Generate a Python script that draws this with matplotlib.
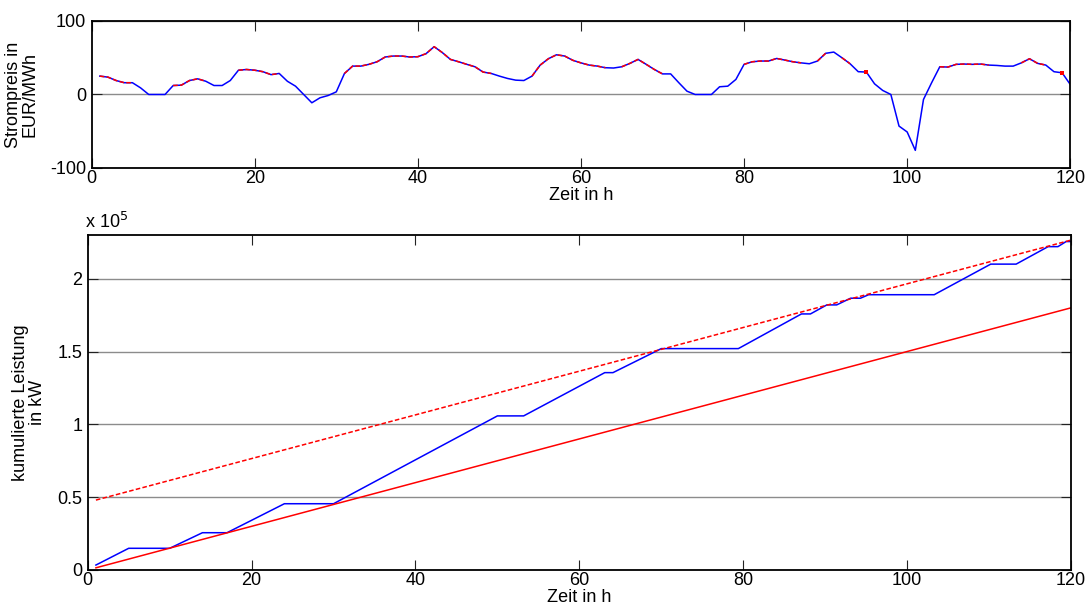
import numpy as np
import matplotlib
matplotlib.use("Agg")
import matplotlib.pyplot as plt
from matplotlib.ticker import FuncFormatter

plt.rcParams['font.family'] = ['Liberation Sans', 'DejaVu Sans']
plt.rcParams['axes.unicode_minus'] = False

# Strompreis je Stunde (1..120), EUR/MWh
hours = np.arange(1, 121)
price = [
    25, 23.6, 19, 16, 16, 9, 0, 0, 0, 12.2,
    12.7, 19, 21.3, 18, 12.2, 12.2, 19, 33, 34, 33,
    31, 27, 28.6, 18, 11.3, 0, -11.3, -4.5, -1.4, 3.6,
    28.6, 38.6, 38.6, 41, 44.5, 51, 52.3, 52.3, 51, 51.4,
    55.5, 65, 57, 47.7, 44.5, 41, 37.7, 30.5, 28.6, 25,
    21.8, 19.5, 19, 25, 40, 48.6, 54, 52.3, 46.5, 43,
    40, 38.6, 36.4, 36, 37.7, 42.3, 47.7, 41, 34, 28,
    28, 16, 4.5, 0, 0, 0, 10.5, 11.3, 20.5, 41,
    44.5, 45.5, 45.5, 49, 46.8, 44.5, 43, 41.8, 45.5, 56,
    57.7, 50, 41.8, 31, 30.5, 14.5, 5.5, 0, -43, -51,
    -76, -6.8, 16, 37.7, 37.3, 41, 41.4, 41, 41.4, 40,
    39.5, 38.6, 38.6, 43, 48.6, 42.3, 40, 31, 29.5, 13.6,
]

# Stunden, in denen produziert wird (rote Markierung oben)
run_blocks = [(1, 5), (10, 14), (18, 23), (31, 49), (54, 63), (65, 70),
              (80, 87), (89, 90), (92, 93), (95, 95), (104, 110),
              (114, 117), (119, 119)]

# kumulierte Erzeugung (Knickpunkte, Stunde / kW)
prod_h = [1, 5, 10, 14, 17, 24, 30, 50, 53.2, 63.1, 64.1, 70, 79.4, 87.1,
          88.2, 90.2, 91.4, 93.1, 94.3, 95.3, 103.3, 110.2, 113.3, 117.2,
          118.4, 119.4, 120]
prod_v = [3400, 14900, 14900, 25600, 25600, 45500, 45500, 105800, 105800,
          135500, 135500, 152000, 152000, 175800, 175800, 182000, 182000,
          186600, 186600, 189000, 189000, 210000, 210000, 222000, 222000,
          225500, 225500]

# Bedarf je Stunde und Speicherkapazitaet
demand = [1500] * 120
storage = 46500

red_price = np.full(len(price), np.nan)
for a, b in run_blocks:
    for h in range(a, b + 1):
        red_price[h - 1] = price[h - 1]
single = [a for a, b in run_blocks if a == b]

dem_cum = np.cumsum(demand)
upper = dem_cum + storage

fig = plt.figure(figsize=(10.91, 6.08), dpi=100)
ax1 = fig.add_axes([0.084, 0.7237, 0.897, 0.2418])
ax2 = fig.add_axes([0.0804, 0.0625, 0.9013, 0.551])

fs = 13
for ax in (ax1, ax2):
    ax.tick_params(direction='in', length=7, width=0.8, top=True, right=True,
                   labelsize=fs, pad=1.5, colors='#222222', labelcolor='black')
    ax.tick_params(axis='y', pad=4)
    for s in ax.spines.values():
        s.set_linewidth(1.3)
        s.set_color('black')
    ax.set_xlim(0, 120)
    ax.set_xticks(np.arange(0, 121, 20))
    ax.yaxis.grid(True, color='#8c8c8c', linewidth=1)
    ax.set_axisbelow(True)

ax1.plot(hours, price, color='#0000ff', lw=1.1)
ax1.plot(hours, red_price, color='#ff0000', lw=1.1, ls=(0, (3, 1.5)))
ax1.plot(single, [price[h - 1] for h in single], 's', color='#ff0000', ms=2.5, mew=0)
ax1.set_ylim(-100, 100)
ax1.set_yticks([-100, 0, 100])
ax1.set_xlabel('Zeit in h', fontsize=fs, labelpad=0)
ax1.set_ylabel('Strompreis in\nEUR/MWh', fontsize=fs, linespacing=1.0)
ax1.yaxis.set_label_coords(-0.054, 0.5)

ax2.plot(prod_h, prod_v, color='#0000ff', lw=1.1)
ax2.plot(hours, dem_cum, color='#ff0000', lw=1.1)
ax2.plot(hours, upper, color='#ff0000', lw=1.1, ls=(0, (3, 1.5)))
ax2.set_ylim(0, 2.3e5)
ax2.set_yticks([0, 0.5e5, 1e5, 1.5e5, 2e5])
ax2.yaxis.set_major_formatter(FuncFormatter(lambda v, p: '%g' % (v / 1e5)))
ax2.text(-0.003, 1.01, r'x 10$^5$', transform=ax2.transAxes, fontsize=fs,
         ha='left', va='bottom')
ax2.set_xlabel('Zeit in h', fontsize=fs, labelpad=0)
ax2.set_ylabel('kumulierte Leistung\nin kW', fontsize=fs, linespacing=1.0)
ax2.yaxis.set_label_coords(-0.042, 0.5)

fig.savefig('out.png', dpi=100)
